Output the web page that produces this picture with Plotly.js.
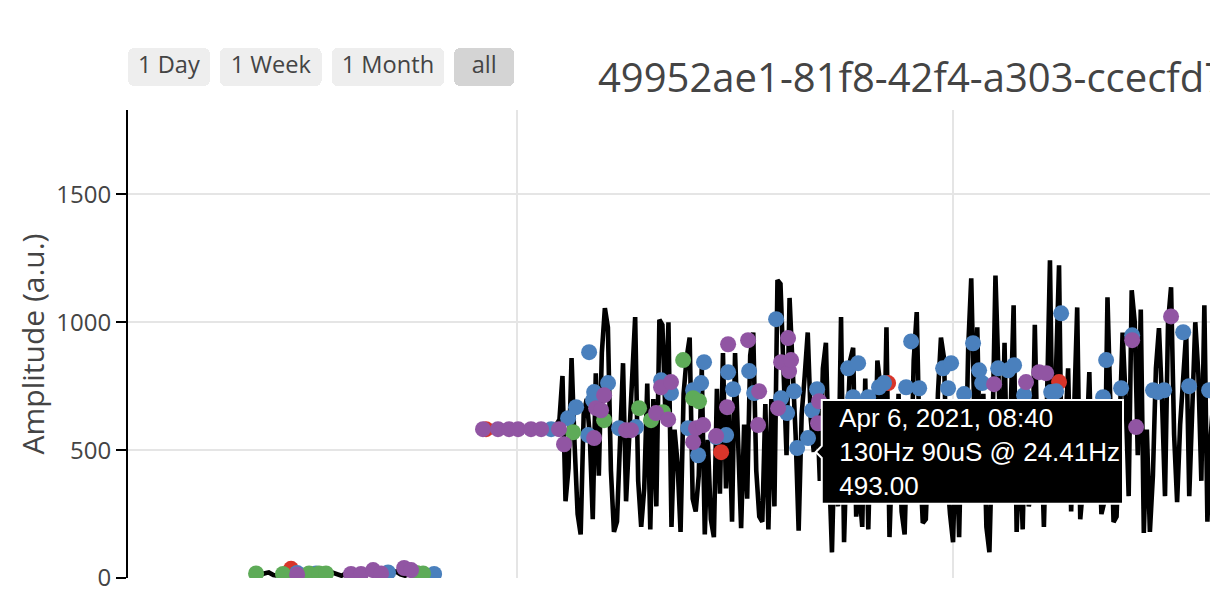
<!DOCTYPE html>
<html><head><meta charset="utf-8">
<script src="https://cdn.plot.ly/plotly-3.0.1.min.js"></script>
<style>
html,body{margin:0;padding:0;overflow:hidden;background:#fff;}
#wrap{width:1210px;height:598px;overflow:hidden;position:relative;}
#chart{position:absolute;left:0;top:0;width:1300px;height:350px;transform:scale(2);transform-origin:0 0;}
</style></head><body><div id="wrap"><div id="chart"></div></div><script>
const chartTitle = '49952ae1-81f8-42f4-a303-ccecfd7e2b41';
const yAxisTitle = 'Amplitude (a.u.)';
const lineSetting = '130Hz 90uS @ 24.41Hz';
const buttonLabels = ['1 Day', '1 Week', '1 Month', 'all'];

// amplitude series, recorded in three regularly sampled segments
const lowStart = '2021-04-03 19:10', lowStepMinutes = 30;
const lowValues = [
  14, 10, 18, 22, 12, 9, 16, 20, 11, 15, 24, 13, 8, 17, 19, 12, 10, 21, 14, 9,
  18, 23, 12, 16, 10, 20, 27, 13, 15, 11, 19, 25, 14, 9, 17, 22, 12, 18, 15, 13
];
const gapTime = '2021-04-04 17:10';
const flatStart = '2021-04-04 19:40', flatStepMinutes = 30;
const flatValues = [586, 585, 587, 586, 584, 586, 588, 585, 586, 587, 585, 586, 584, 587, 586, 585, 588, 590];
const noisyStart = '2021-04-05 04:40', noisyStepMinutes = 20;
const noisyValues = [
  620, 790, 300, 430, 860, 520, 250, 170, 640, 700, 560, 230,
  800, 400, 880, 1055, 980, 420, 180, 220, 610, 840, 300, 560,
  780, 1020, 380, 200, 350, 760, 190, 700, 280, 1010, 990, 640,
  1000, 200, 580, 450, 180, 720, 860, 940, 310, 260, 400, 820,
  170, 540, 230, 160, 740, 330, 880, 350, 640, 220, 880, 470,
  195, 600, 310, 870, 960, 420, 240, 220, 680, 190, 700, 280,
  1165, 1150, 720, 480, 1095, 870, 560, 185, 640, 790, 960, 620,
  493, 700, 380, 820, 920, 450, 100, 600, 280, 1020, 140, 560,
  850, 900, 240, 350, 200, 780, 190, 650, 310, 850, 750, 340,
  980, 160, 520, 300, 720, 260, 170, 600, 340, 850, 1040, 480,
  215, 230, 560, 650, 300, 720, 940, 860, 410, 250, 140, 580,
  160, 700, 330, 900, 1172, 640, 980, 380, 720, 200, 101, 560,
  1183, 800, 350, 920, 300, 640, 1066, 180, 520, 190, 750, 280,
  350, 990, 420, 600, 200, 680, 1242, 400, 760, 1223, 300, 560,
  820, 260, 640, 1058, 230, 380, 500, 805, 300, 420, 600, 250,
  300, 1098, 520, 219, 240, 620, 960, 700, 320, 1125, 1000, 480,
  1050, 176, 580, 180, 400, 820, 977, 700, 320, 1000, 1137, 560,
  297, 600, 840, 960, 320, 640, 1000, 800, 380, 1066, 220, 540,
  700, 500, 780
];
const hoveredNoisyIndex = 84;

const redTimes = ['2021-04-03 23:07','2021-04-04 20:35','2021-04-05 22:28','2021-04-06 16:51','2021-04-07 11:40'];
const redValues = [36, 582, 492, 762, 766];

const blueTimes = [
  '2021-04-03 23:47','2021-04-04 01:52','2021-04-04 09:48','2021-04-04 14:52','2021-04-05 03:45',
  '2021-04-05 05:37','2021-04-05 06:30','2021-04-05 07:56','2021-04-05 07:50','2021-04-05 08:22',
  '2021-04-05 08:29','2021-04-05 10:01','2021-04-05 11:14','2021-04-05 13:06','2021-04-05 15:51',
  '2021-04-05 16:57','2021-04-05 18:50','2021-04-05 19:23','2021-04-05 19:56','2021-04-05 20:16',
  '2021-04-05 20:35','2021-04-05 21:55','2021-04-05 23:01','2021-04-05 23:14','2021-04-05 23:47',
  '2021-04-06 01:33','2021-04-06 02:06','2021-04-06 04:31','2021-04-06 05:04','2021-04-06 05:44',
  '2021-04-06 06:30','2021-04-06 06:50','2021-04-06 08:02','2021-04-06 08:29','2021-04-06 09:02',
  '2021-04-06 12:27','2021-04-06 13:00','2021-04-06 13:33','2021-04-06 14:39','2021-04-06 15:51',
  '2021-04-06 16:24','2021-04-06 18:50','2021-04-06 19:23','2021-04-06 20:16','2021-04-06 22:54',
  '2021-04-06 23:27','2021-04-06 23:47','2021-04-07 01:13','2021-04-07 02:12','2021-04-07 02:52',
  '2021-04-07 03:12','2021-04-07 04:58','2021-04-07 06:04','2021-04-07 06:43','2021-04-07 07:49',
  '2021-04-07 10:48','2021-04-07 11:21','2021-04-07 11:54','2021-04-07 16:31','2021-04-07 16:51',
  '2021-04-07 18:30','2021-04-07 19:43','2021-04-07 22:01','2021-04-07 22:34','2021-04-07 23:14',
  '2021-04-08 01:20','2021-04-08 01:59','2021-04-08 04:11'
];
const blueValues = [
  20, 18, 22, 16, 582,
  625, 668, 883, 559, 695,
  727, 762, 586, 590, 773,
  723, 586, 734, 480, 762,
  844, 551, 559, 805, 738,
  809, 723, 1012, 703, 645,
  730, 508, 547, 656, 738,
  820, 707, 840, 707, 746,
  762, 746, 925, 742, 820,
  742, 840, 719, 918, 812,
  762, 820, 812, 832, 715,
  727, 730, 1035, 707, 852,
  742, 949, 734, 727, 734,
  961, 750, 734
];

const greenTimes = [
  '2021-04-03 19:16','2021-04-03 22:14','2021-04-04 01:06','2021-04-04 02:12','2021-04-04 02:58',
  '2021-04-04 12:55','2021-04-04 13:39','2021-04-05 06:10','2021-04-05 09:35','2021-04-05 13:26',
  '2021-04-05 14:45','2021-04-05 16:04','2021-04-05 18:17','2021-04-05 19:23','2021-04-05 20:02'
];
const greenValues = [18, 16, 18, 18, 18, 20, 18, 570, 617, 664, 617, 648, 852, 703, 691];

const purpleTimes = [
  '2021-04-03 23:47','2021-04-04 05:43','2021-04-04 06:49','2021-04-04 08:09','2021-04-04 09:02',
  '2021-04-04 11:34','2021-04-04 12:20','2021-04-04 20:15','2021-04-04 21:54','2021-04-04 23:07',
  '2021-04-05 00:07','2021-04-05 01:32','2021-04-05 02:39','2021-04-05 04:37','2021-04-05 05:10',
  '2021-04-05 08:29','2021-04-05 08:42','2021-04-05 09:15','2021-04-05 09:35','2021-04-05 12:00',
  '2021-04-05 12:33','2021-04-05 15:18','2021-04-05 15:51','2021-04-05 16:38','2021-04-05 16:57',
  '2021-04-05 19:23','2021-04-05 19:42','2021-04-05 20:29','2021-04-05 21:55','2021-04-05 23:07',
  '2021-04-05 23:14','2021-04-06 01:26','2021-04-06 02:32','2021-04-06 02:39','2021-04-06 04:44',
  '2021-04-06 05:04','2021-04-06 05:50','2021-04-06 05:57','2021-04-06 06:10','2021-04-06 09:08',
  '2021-04-06 09:15','2021-04-07 04:31','2021-04-07 08:02','2021-04-07 09:28','2021-04-07 10:15',
  '2021-04-07 19:43','2021-04-07 20:09','2021-04-08 00:00'
];
const purpleValues = [
  14, 16, 16, 31, 18,
  39, 31, 582, 582, 582,
  582, 582, 582, 582, 523,
  547, 664, 656, 715, 578,
  578, 645, 746, 620, 766,
  531, 586, 598, 555, 668,
  914, 930, 598, 730, 664,
  844, 938, 809, 852, 605,
  691, 758, 766, 805, 801,
  930, 590, 1023
];

function stamp(base, i, step) {
  const [d, t] = base.split(' ');
  const [Y, M, D] = d.split('-').map(Number);
  const [h, m] = t.split(':').map(Number);
  const ms = Date.UTC(Y, M - 1, D, h, m) + i * step * 60000;
  return new Date(ms).toISOString().slice(0, 16).replace('T', ' ');
}
const lineTimes = [].concat(
  lowValues.map((v, i) => stamp(lowStart, i, lowStepMinutes)),
  [gapTime],
  flatValues.map((v, i) => stamp(flatStart, i, flatStepMinutes)),
  noisyValues.map((v, i) => stamp(noisyStart, i, noisyStepMinutes))
);
const lineValues = [].concat(lowValues, [null], flatValues, noisyValues);
const hoveredIndex = lowValues.length + 1 + flatValues.length + hoveredNoisyIndex;

const W = 1300, H = 350;
const pad = '\u00a0\u00a0';
const markerTrace = (x, y, color, name) => ({
  type: 'scatter', mode: 'markers', x: x, y: y, name: name,
  marker: {color: color, size: 8},
  hovertemplate: pad + '%{x|%b %-d, %Y, %H:%M}<br>' + pad + '%{y:.2f}<extra></extra>'
});

const data = [
  {
    type: 'scatter', mode: 'lines', x: lineTimes, y: lineValues,
    text: lineValues.map(() => lineSetting), name: lineSetting,
    line: {color: '#000000', width: 2.3},
    hovertemplate: pad + '%{x|%b %-d, %Y, %H:%M}<br>' + pad + '%{text}<br>' + pad + '%{y:.2f}<extra></extra>'
  },
  markerTrace(redTimes, redValues, '#d8352a', 'red'),
  markerTrace(blueTimes, blueValues, '#4a80bd', 'blue'),
  markerTrace(greenTimes, greenValues, '#5eab58', 'green'),
  markerTrace(purpleTimes, purpleValues, '#9155a3', 'purple')
];

const layout = {
  width: W, height: H,
  margin: {l: 64, r: 80, t: 55, b: 61},
  showlegend: false,
  hovermode: 'closest',
  paper_bgcolor: '#ffffff', plot_bgcolor: '#ffffff',
  title: {
    text: chartTitle, xref: 'container', x: 299 / W, xanchor: 'left',
    yref: 'container', y: 1 - 39 / H, yanchor: 'middle', font: {size: 20}
  },
  xaxis: {
    type: 'date',
    autorange: true,
    autorangeoptions: {include: ['2021-04-03 05:10', '2021-04-13 19:42']},
    tick0: '2021-04-05', dtick: 2 * 86400000,
    showticklabels: false,
    showgrid: true, gridcolor: '#e5e5e5', zeroline: false, showline: false,
    rangeselector: {
      x: 0, xanchor: 'left', y: 1.05, yanchor: 'bottom',
      font: {size: 11.8},
      buttons: [
        {count: 1, label: buttonLabels[0], step: 'day', stepmode: 'backward'},
        {count: 7, label: buttonLabels[1], step: 'day', stepmode: 'backward'},
        {count: 1, label: buttonLabels[2], step: 'month', stepmode: 'backward'},
        {label: buttonLabels[3], step: 'all'}
      ]
    }
  },
  yaxis: {
    title: {text: yAxisTitle, font: {size: 15}},
    range: [0, 1830],
    showline: true, linecolor: '#000000', linewidth: 1,
    ticks: 'outside', ticklen: 5, tickcolor: '#000000',
    showgrid: true, gridcolor: '#e5e5e5', zeroline: false,
    tickvals: [0, 500, 1000, 1500]
  }
};

const gd = document.getElementById('chart');
Plotly.newPlot(gd, data, layout, {displayModeBar: false}).then(() => {
  Plotly.Fx.hover(gd, [{curveNumber: 0, pointNumber: hoveredIndex}]);
});
</script></body></html>
